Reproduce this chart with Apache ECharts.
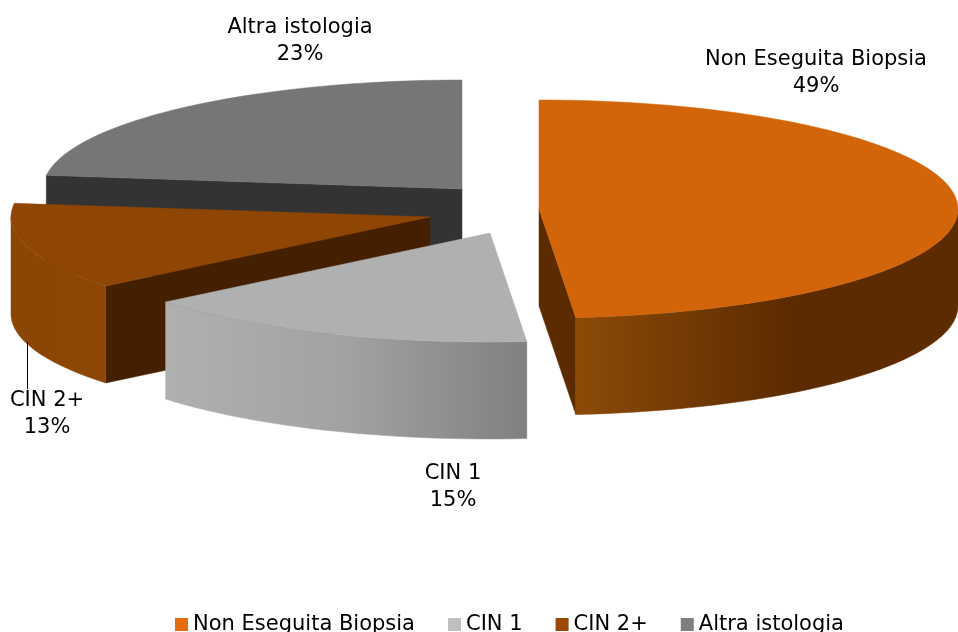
<!DOCTYPE html>
<html>
<head>
<meta charset="utf-8">
<style>
  html, body { margin: 0; padding: 0; background: #fff; }
  #chart { width: 958px; height: 632px; }
</style>
</head>
<body>
<div id="chart"></div>
<script src="https://cdn.jsdelivr.net/npm/echarts@6/dist/echarts.min.js"></script>
<script>
const categories = ['Non Eseguita Biopsia', 'CIN 1', 'CIN 2+', 'Altra istologia']
const shares = [48.6, 15.49, 12.91, 23.0]

// layout of the tilted pie, one entry per slice
const centers = [[539, 209], [490, 233], [430, 217], [462, 189]]
const labelPos = [[816, 73], [453, 487], [47, 414], [300, 41]]
const RX = 419
const RY = 109
const DEPTH = 97
const FONT = '"DejaVu Sans", Verdana, sans-serif'

const legendColors = ['#e46c0a', '#bfbfbf', '#984807', '#7f7f7f']
const topColors = ['#d2650a', '#b0b0b0', '#8f4604', '#767676']
const cutColors = ['#5c2b00', '#666666', '#442000', '#333333']
const wallStops = [
  [[0, '#8c4a08'], [0.56, '#5c2b00'], [1, '#5c2b00']],
  [[0, '#b0b0b0'], [0.5, '#a2a2a2'], [1, '#808080']],
  [[0, '#8b4504'], [1, '#8d4604']],
  [[0, '#767676'], [1, '#767676']],
]
const stackOrder = [5, 4, 3, 2]

function rimPoint(c, deg, drop) {
  const rad = deg * Math.PI / 180
  return [c[0] + RX * Math.sin(rad), c[1] - RY * Math.cos(rad) + drop]
}

function arcPoints(c, from, to, drop) {
  const pts = []
  const steps = Math.max(2, Math.ceil(Math.abs(to - from) / 2))
  for (let i = 0; i <= steps; i++) pts.push(rimPoint(c, from + (to - from) * i / steps, drop))
  return pts
}

function cutFace(c, deg, color) {
  const p = rimPoint(c, deg, 0)
  return {
    type: 'polygon',
    shape: { points: [c, p, [p[0], p[1] + DEPTH], [c[0], c[1] + DEPTH]] },
    style: { fill: color, stroke: color, lineWidth: 0.5 },
  }
}

function renderSlice(idx) {
  return (params, api) => {
    const start = api.value(0)
    const end = api.value(1)
    const c = centers[idx]
    const children = []

    // side faces along the two radii, only the ones turned to the viewer
    if (Math.sin(start * Math.PI / 180) < 0) children.push(cutFace(c, start, cutColors[idx]))
    if (Math.sin(end * Math.PI / 180) > 0) children.push(cutFace(c, end, cutColors[idx]))

    // outer wall: only the front half of the rim shows
    const wallFrom = Math.max(start, 90)
    const wallTo = Math.min(end, 270)
    if (wallTo > wallFrom) {
      const wallFill = new echarts.graphic.LinearGradient(0, 0, 1, 0,
        wallStops[idx].map(([offset, color]) => ({ offset, color })))
      children.push({
        type: 'polygon',
        shape: {
          points: arcPoints(c, wallFrom, wallTo, 0).concat(arcPoints(c, wallTo, wallFrom, DEPTH)),
        },
        style: { fill: wallFill, stroke: wallFill, lineWidth: 0.5 },
      })
    }

    children.push({
      type: 'polygon',
      shape: { points: [c].concat(arcPoints(c, start, end, 0)) },
      style: { fill: topColors[idx], stroke: topColors[idx], lineWidth: 0.5 },
    })

    children.push({
      type: 'text',
      style: {
        text: `${categories[idx]}\n${Math.round(api.value(2))}%`,
        x: labelPos[idx][0],
        y: labelPos[idx][1],
        align: 'center',
        verticalAlign: 'middle',
        font: `21px ${FONT}`,
        lineHeight: 27,
        fill: '#000',
      },
    })

    return { type: 'group', children }
  }
}

let running = 0
const series = categories.map((name, idx) => {
  const from = running / 100 * 360
  running += shares[idx]
  const to = running / 100 * 360
  return {
    name,
    type: 'custom',
    coordinateSystem: 'none',
    z: stackOrder[idx],
    silent: true,
    itemStyle: { color: legendColors[idx] },
    renderItem: renderSlice(idx),
    data: [[from, to, shares[idx]]],
  }
})

const chart = echarts.init(document.getElementById('chart'), null, { renderer: 'canvas' })
chart.setOption({
  animation: false,
  backgroundColor: '#fff',
  legend: {
    data: categories,
    left: 170,
    top: 609,
    icon: 'rect',
    itemWidth: 13,
    itemHeight: 13,
    itemGap: 33,
    selectedMode: false,
    textStyle: { color: '#000', fontSize: 21, fontFamily: FONT },
  },
  series,
  // leader line from the CIN 2+ slice to its label
  graphic: [{
    type: 'line',
    z: 10,
    shape: { x1: 27.5, y1: 342, x2: 27.5, y2: 389 },
    style: { stroke: '#000', lineWidth: 1 },
  }],
})
</script>
</body>
</html>
